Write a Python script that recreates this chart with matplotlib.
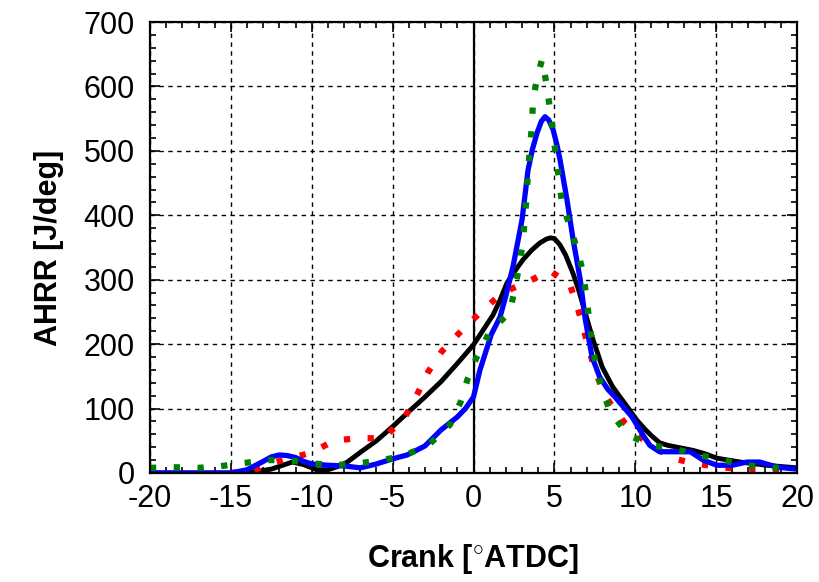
import matplotlib
matplotlib.use("Agg")
import matplotlib.pyplot as plt
from matplotlib.ticker import MultipleLocator

plt.rcParams['font.family'] = ['Liberation Sans', 'DejaVu Sans']
plt.rcParams['mathtext.fontset'] = 'custom'
plt.rcParams['mathtext.rm'] = 'Liberation Sans'
plt.rcParams['mathtext.bf'] = 'Liberation Sans:bold'

# ---- data ----
black_x = [-20, -16, -15, -13.5, -12.5, -11.8, -11.2, -10.5, -9.7, -9, -8.4, -7.8, -7, -6, -5,
           -4.1, -3, -2, -1, 0, 0.6, 1.2, 1.6, 2.07, 2.6, 3.06, 3.6, 4.1, 4.5, 4.75, 5.0, 5.35,
           5.7, 6.15, 6.5, 6.8, 7.1, 7.4, 7.7, 7.95, 8.3, 8.6, 9.0, 9.5, 10.1, 10.6, 11, 11.5,
           12.0, 12.6, 13.6, 14.3, 15.05, 16.5, 18.1, 20]
black_y = [0, 0, 0, 2, 6, 12, 17, 13, 5, 5, 10, 17, 32, 50, 72,
           93, 118, 142, 170, 199, 222, 245, 266, 295, 315, 331, 346, 357, 363, 365, 364, 354,
           338, 310, 284, 258, 232, 206, 184, 165, 148, 134, 120, 103, 82, 68, 58, 47,
           43, 40, 35, 30, 23, 17, 12, 8]

red_x = [-15, -13.5, -12.5, -11.5, -10.1, -9, -8.4, -7.1, -5.6, -4.9, -4.23, -3.5, -2.8,
         -1.95, -0.7, 0.59, 1.8, 3.37, 4.73, 5.97, 6.48, 7.0, 7.5, 8.0, 8.4, 9.37, 10.7,
         12.3, 13.6, 15, 16.5, 17.9, 19, 20]
red_y = [0, 5, 15, 22, 31, 45, 51, 54, 54, 70, 87, 121, 157,
         189, 222, 253, 280, 297, 314, 292, 253, 205, 160, 128, 110, 77, 47,
         23, 15, 10, 6, 6, 3, 2]

blue_x = [-20, -15, -14, -13, -12.5, -12, -11.5, -11, -10.5, -10, -9, -8, -7, -6, -5, -4.1,
          -3, -2, -1, -0.5, 0, 0.4, 1.1, 1.64, 2.0, 2.44, 3.0, 3.37, 3.65, 3.93, 4.2, 4.42,
          4.65, 4.92, 5.15, 5.35, 5.78, 6.16, 6.6, 6.9, 7.33, 7.8, 8.3, 8.75, 9.8, 10.5,
          10.9, 11.5, 12.6, 13.4, 14.2, 15.05, 16, 16.9, 17.7, 18.8, 20]
blue_y = [0, 0, 5, 18, 25, 28, 27, 24, 18, 14, 12, 11, 8, 14, 22, 28,
          42, 67, 87, 100, 118, 160, 215, 242, 275, 320, 393, 470, 503, 528, 546, 553,
          548, 533, 510, 486, 424, 362, 300, 240, 180, 149, 130, 118, 87, 58,
          43, 33, 33, 33, 20, 12, 12, 17, 17, 9, 6]

green_x = [-20, -18.6, -17, -15.8, -14.3, -12.9, -11.5, -10, -8.6, -7.1, -5.6, -4.2, -2.8,
           -1.45, -0.8, -0.35, 0.2, 1.0, 2.26, 2.57, 2.87, 3.06, 3.18, 3.3, 3.37, 3.5, 3.62,
           3.68, 3.93, 4.24, 4.54, 4.73, 4.92, 5.1, 5.29, 5.47, 5.97, 6.42, 6.79, 6.96, 7.15,
           7.33, 7.57, 7.95, 8.45, 9.55, 11.0, 12.5, 13.9, 15.4, 16.8, 18.2, 19.7, 20]
green_y = [8, 9, 8, 10, 15, 20, 20, 15, 12, 15, 20, 28, 43,
           75, 110, 147, 180, 219, 250, 289, 326, 362, 397, 435, 470, 506, 543,
           579, 613, 642, 600, 564, 528, 491, 455, 419, 382, 346, 310, 276, 239,
           202, 166, 130, 95, 59, 43, 37, 28, 20, 12, 9, 6, 6]

x_ticks = [-20, -15, -10, -5, 0, 5, 10, 15, 20]
y_ticks = [0, 100, 200, 300, 400, 500, 600, 700]

fig = plt.figure(figsize=(8.19, 5.82), dpi=100)
ax = fig.add_axes([150/819, 1-473/582, 647/819, 451/582])

dots = (0, (1, 2.8))
ax.plot(black_x, black_y, color='black', lw=3.5, zorder=3,
        solid_capstyle='round', solid_joinstyle='round')
ax.plot(red_x, red_y, color='#ff0000', lw=4.5, ls=dots, zorder=4)
ax.plot(blue_x, blue_y, color='#0000ff', lw=3.8, zorder=5,
        solid_capstyle='round', solid_joinstyle='round')
ax.plot(green_x, green_y, color='#008000', lw=4.5, ls=dots, zorder=6)

ax.axvline(0, color='black', lw=1.6, zorder=2)

ax.set_xlim(-20, 20)
ax.set_ylim(0, 700)
ax.set_xticks(x_ticks)
ax.set_yticks(y_ticks)
ax.set_xticklabels([str(v) for v in x_ticks])
ax.xaxis.set_minor_locator(MultipleLocator(1))
ax.yaxis.set_minor_locator(MultipleLocator(20))

ax.grid(True, which='major', color='black', lw=1.0, ls=(0, (3.2, 3.2)), zorder=1)
ax.set_axisbelow(True)

for s in ax.spines.values():
    s.set_linewidth(1.6)
    s.set_zorder(7)

ax.tick_params(which='both', direction='in', top=True, right=True, width=1.2, labelsize=22)
ax.tick_params(which='major', length=7)
ax.tick_params(which='minor', length=4.5)
ax.tick_params(axis='x', pad=8)
ax.tick_params(axis='y', pad=11)

ax.set_xlabel(r'Crank [$^{\circ}$ATDC]', fontsize=22, fontweight='bold', labelpad=20)
ax.set_ylabel('AHRR [J/deg]', fontsize=22, fontweight='bold', labelpad=14)

fig.savefig('out.png', dpi=100)
